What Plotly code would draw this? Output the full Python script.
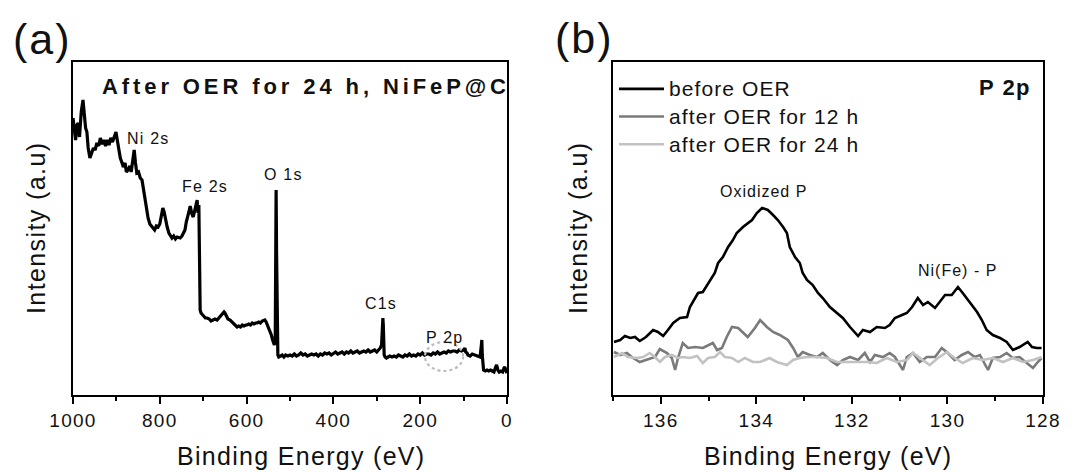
import plotly.graph_objects as go
from plotly.subplots import make_subplots

# ---------------- data: (a) survey spectrum ----------------
survey_ev = [1000, 997, 994, 991, 988, 985, 981, 977, 974, 971, 968, 965, 961, 957, 953, 949, 945, 941, 937, 933,
             929, 925, 921, 917, 913, 909, 905, 901, 898, 895, 891, 887, 884, 880, 877, 873, 869, 866, 862, 859,
             856, 853, 849, 845, 841, 838, 834, 830, 827, 823, 819, 816, 812, 808, 804, 800, 797, 793, 790, 786,
             783, 779, 775, 772, 768, 764, 760, 756, 753, 749, 745, 742, 739, 736, 733, 730, 728, 726, 723, 720,
             717, 714, 712, 710, 709, 708, 707, 705, 700, 695, 691, 686, 682, 678, 673, 668, 664, 660, 656, 652,
             650, 647, 643, 638, 634, 630, 626, 622, 618, 614, 610, 606, 602, 599, 595, 591, 587, 583, 579, 576,
             572, 568, 564, 561, 558, 555, 552, 549, 546, 543, 540, 538, 536, 534, 533, 532, 531, 530, 529, 528,
             526, 522, 518, 514, 510, 505, 500, 495, 490, 485, 480, 475, 470, 465, 460, 455, 450, 445, 440, 435,
             430, 425, 420, 415, 410, 405, 400, 395, 390, 385, 380, 375, 370, 365, 360, 355, 350, 345, 340, 335,
             330, 325, 320, 315, 310, 305, 300, 296, 292, 289, 287, 286, 285, 284, 283, 281, 278, 274, 270, 265,
             260, 255, 250, 245, 240, 235, 230, 225, 220, 215, 210, 205, 200, 195, 190, 185, 180, 175, 170, 165,
             160, 155, 150, 145, 140, 135, 130, 125, 120, 115, 110, 105, 100, 97, 95, 92, 90, 85, 80, 75,
             70, 66, 62, 59, 58, 57, 56, 54, 50, 46, 42, 38, 34, 30, 27, 24, 21, 18, 14, 10,
             7, 5, 3, 1, 0]
survey_int = [277, 265, 255, 270, 272, 258, 283, 295, 277, 267, 263, 247, 237, 242, 247, 245, 252, 249, 257, 251,
              255, 249, 255, 250, 257, 253, 259, 263, 255, 245, 237, 232, 228, 232, 223, 225, 229, 223, 237, 245,
              232, 222, 223, 217, 215, 207, 195, 185, 177, 171, 169, 167, 165, 169, 168, 171, 177, 187, 183, 173,
              168, 162, 159, 157, 159, 156, 158, 157, 157, 159, 162, 165, 173, 180, 183, 189, 183, 181, 178, 185,
              190, 195, 182, 190, 155, 105, 85, 82, 79, 77, 77, 76, 74, 75, 76, 75, 77, 79, 81, 83,
              82, 79, 76, 75, 73, 71, 70, 68, 69, 68, 70, 69, 70, 70, 71, 70, 72, 71, 72, 72,
              73, 72, 74, 75, 75, 73, 70, 67, 65, 60, 55, 53, 50, 55, 135, 205, 145, 65, 45, 40,
              38, 39, 40, 38, 40, 39, 40, 39, 41, 39, 40, 42, 40, 41, 39, 40, 41, 40, 41, 39,
              41, 40, 42, 41, 42, 40, 42, 43, 41, 42, 43, 41, 43, 42, 44, 42, 43, 44, 42, 43,
              44, 43, 45, 43, 44, 45, 43, 45, 47, 50, 65, 77, 70, 50, 40, 38, 37, 38, 39, 38,
              39, 38, 40, 39, 38, 40, 39, 41, 39, 40, 39, 41, 40, 42, 40, 41, 41, 40, 42, 41,
              43, 41, 42, 43, 42, 44, 43, 44, 44, 43, 45, 44, 45, 47, 43, 42, 40, 39, 41, 40,
              39, 38, 38, 50, 55, 40, 30, 25, 24, 25, 24, 25, 24, 23, 27, 30, 25, 23, 24, 23,
              27, 28, 25, 23, 22]

survey_peaks = ["Ni 2s", "Fe 2s", "O 1s", "C1s", "P 2p"]
survey_peak_ev = [827, 696, 514, 290, 143]
survey_peak_int = [257, 209, 221, 92, 58]

# ---------------- data: (b) P 2p high resolution ----------------
before_ev = [136.98, 136.85, 136.75, 136.64, 136.54, 136.44, 136.31, 136.16, 136.06, 135.95, 135.85, 135.74,
             135.60, 135.45, 135.39, 135.33, 135.22, 135.12, 135.01, 134.87, 134.80, 134.70, 134.59, 134.49,
             134.41, 134.34, 134.28, 134.09, 133.99, 133.88, 133.76, 133.65, 133.55, 133.44, 133.36, 133.30,
             133.19, 133.09, 133.03, 132.94, 132.82, 132.71, 132.61, 132.46, 132.31, 132.19, 132.04, 131.94,
             131.87, 131.77, 131.62, 131.48, 131.31, 131.21, 131.10, 130.95, 130.85, 130.74, 130.62, 130.51,
             130.41, 130.26, 130.16, 130.05, 129.91, 129.78, 129.68, 129.53, 129.38, 129.28, 129.18, 129.05,
             128.90, 128.76, 128.63, 128.49, 128.32, 128.23, 128.13, 128.03]
before_int = [53, 55, 59, 57, 58, 54, 58, 65, 63, 59, 65, 72,
              77, 78, 88, 93, 102, 103, 112, 122, 132, 138, 148, 155,
              162, 165, 168, 175, 182, 187, 185, 180, 175, 168, 162, 148,
              138, 132, 122, 115, 110, 102, 97, 88, 82, 77, 68, 63,
              59, 65, 63, 68, 67, 70, 77, 80, 82, 88, 97, 90,
              93, 87, 93, 100, 100, 108, 102, 93, 83, 75, 65, 60,
              57, 53, 45, 48, 53, 48, 47, 47]

after12_ev = [136.98, 136.85, 136.71, 136.58, 136.44, 136.29, 136.12, 136.02, 135.87, 135.77, 135.70, 135.64,
              135.54, 135.43, 135.28, 135.12, 135.01, 134.91, 134.82, 134.72, 134.62, 134.51, 134.38, 134.28,
              134.18, 134.03, 133.92, 133.78, 133.65, 133.51, 133.34, 133.23, 133.13, 133.03, 132.88, 132.73,
              132.61, 132.46, 132.31, 132.19, 132.04, 131.87, 131.73, 131.62, 131.52, 131.35, 131.21, 131.10,
              130.93, 130.85, 130.72, 130.58, 130.43, 130.26, 130.12, 129.99, 129.85, 129.70, 129.57, 129.43,
              129.32, 129.15, 129.05, 128.90, 128.76, 128.63, 128.49, 128.34, 128.21, 128.11, 128.03]
after12_int = [43, 40, 42, 37, 33, 35, 38, 46, 42, 37, 25, 37,
               52, 47, 48, 47, 50, 52, 45, 47, 58, 68, 67, 62,
               58, 67, 75, 68, 63, 60, 55, 47, 38, 43, 40, 38,
               42, 35, 30, 35, 38, 35, 42, 33, 40, 38, 42, 38,
               25, 38, 42, 33, 38, 38, 47, 42, 35, 40, 43, 38,
               40, 25, 37, 38, 42, 37, 38, 32, 27, 33, 37]

after24_ev = [136.98, 136.81, 136.69, 136.50, 136.37, 136.23, 136.12, 136.02, 135.91, 135.77, 135.64, 135.54,
              135.39, 135.24, 135.12, 135.01, 134.87, 134.76, 134.66, 134.51, 134.38, 134.24, 134.07, 133.92,
              133.72, 133.57, 133.36, 133.23, 133.09, 132.94, 132.73, 132.52, 132.31, 132.10, 131.90, 131.69,
              131.48, 131.27, 131.06, 130.85, 130.72, 130.58, 130.37, 130.20, 130.01, 129.85, 129.68, 129.47,
              129.26, 129.05, 128.84, 128.63, 128.42, 128.21, 128.03]
after24_int = [38, 42, 38, 37, 38, 42, 38, 33, 38, 40, 37, 38,
               37, 39, 32, 37, 38, 43, 38, 37, 33, 37, 33, 33,
               37, 33, 30, 35, 37, 38, 38, 37, 33, 33, 33, 33,
               32, 37, 33, 35, 42, 37, 30, 37, 43, 37, 32, 37,
               35, 37, 33, 37, 33, 35, 38]

series_names = ["before OER", "after OER for 12 h", "after OER for 24 h"]
series_colors = ["#000000", "#7a7a7a", "#c2c2c2"]
p2p_peaks = ["Oxidized P", "Ni(Fe) - P"]
p2p_peak_ev = [133.86, 129.78]
p2p_peak_int = [204, 125]

survey_ticks = [1000, 800, 600, 400, 200, 0]
survey_minor = [900, 700, 500, 300, 100]
p2p_ticks = [136, 134, 132, 130, 128]
p2p_minor = [137, 135, 133, 131, 129]

FONT = "Liberation Sans, Arial, sans-serif"
TXT = "#111111"


def ls(text, px, size=None):
    st = f"letter-spacing:{px}px"
    if size:
        st += f";font-size:{size}px"
    return f'<span style="{st}">{text}</span>'


W, H = 1088, 472
ML, MR, MT, MB = 73, 45, 62, 77
PW = W - ML - MR
PH = H - MT - MB


def px_x(px):
    return (px - ML) / PW


def px_y(py):
    return (H - MB - py) / PH


fig = make_subplots(rows=1, cols=2, horizontal_spacing=(613 - 507) / PW)
fig.update_xaxes(domain=[0, px_x(507)], row=1, col=1)
fig.update_xaxes(domain=[px_x(613), 1], row=1, col=2)

fig.add_trace(go.Scatter(x=survey_ev, y=survey_int, mode="lines", showlegend=False,
                         line=dict(color="#000000", width=3.2)), row=1, col=1)

for name, col, xs, ys in zip(series_names, series_colors,
                             [before_ev, after12_ev, after24_ev],
                             [before_int, after12_int, after24_int]):
    fig.add_trace(go.Scatter(x=xs, y=ys, mode="lines", name=ls(name, 1.1, 21),
                             line=dict(color=col, width=2.6)), row=1, col=2)

axis_common = dict(showline=True, linecolor="black", linewidth=2, mirror=True,
                   showgrid=False, zeroline=False)
fig.update_xaxes(**axis_common, ticks="outside", ticklen=7, tickwidth=2, tickcolor="black",
                 tickfont=dict(family=FONT, size=19, color=TXT))
fig.update_xaxes(range=[1000, 0], tickmode="array", tickvals=survey_ticks,
                 ticktext=[ls(str(t), 1.3) for t in survey_ticks],
                 minor=dict(tickvals=survey_minor, ticks="outside", ticklen=4, tickwidth=2, tickcolor="black"),
                 row=1, col=1)
fig.update_xaxes(range=[137, 128], tickmode="array", tickvals=p2p_ticks,
                 ticktext=[ls(str(t), 1.3) for t in p2p_ticks],
                 minor=dict(tickvals=p2p_minor, ticks="outside", ticklen=4, tickwidth=2, tickcolor="black"),
                 row=1, col=2)
fig.update_yaxes(**axis_common, showticklabels=False, ticks="", range=[0, 333])

ann = []
paper = dict(xref="paper", yref="paper", showarrow=False, xanchor="center", yanchor="middle")
# panel letters
ann.append(dict(text=ls("(a)", 2), x=px_x(42), y=px_y(39), **paper,
                font=dict(family=FONT, size=43, color=TXT)))
ann.append(dict(text=ls("(b)", 2), x=px_x(584), y=px_y(38), **paper,
                font=dict(family=FONT, size=43, color=TXT)))
# axis titles
for cx in (301, 828):
    ann.append(dict(text=ls("Binding Energy (eV)", 1.3), x=px_x(cx), y=px_y(456), **paper,
                    font=dict(family=FONT, size=25, color=TXT)))
for cx in (36, 578):
    ann.append(dict(text=ls("Intensity (a.u)", 1.4), x=px_x(cx), y=px_y(228), textangle=-90, **paper,
                    font=dict(family=FONT, size=25, color=TXT)))
# panel headers
hdr = dict(paper)
hdr["xanchor"] = "right"
ann.append(dict(text="<b>" + ls("After OER for 24 h, NiFeP@C", 3.9) + "</b>", x=px_x(512), y=px_y(86), **hdr,
                font=dict(family=FONT, size=22, color=TXT)))
ann.append(dict(text="<b>" + ls("P 2p", 1.5) + "</b>", x=px_x(1033), y=px_y(87), **hdr,
                font=dict(family=FONT, size=22, color=TXT)))
# peak labels
for t, xv, yv in zip(survey_peaks, survey_peak_ev, survey_peak_int):
    ann.append(dict(text=ls(t, 1.2), x=xv, y=yv, xref="x", yref="y", showarrow=False,
                    xanchor="center", yanchor="middle", font=dict(family=FONT, size=16, color=TXT)))
for t, xv, yv in zip(p2p_peaks, p2p_peak_ev, p2p_peak_int):
    ann.append(dict(text=ls(t, 1.0), x=xv, y=yv, xref="x2", yref="y2", showarrow=False,
                    xanchor="center", yanchor="middle", font=dict(family=FONT, size=16, color=TXT)))

fig.update_layout(
    width=W, height=H,
    margin=dict(l=ML, r=MR, t=MT, b=MB),
    paper_bgcolor="white", plot_bgcolor="white",
    font=dict(family=FONT, color=TXT),
    annotations=ann,
    shapes=[dict(type="circle", xref="x", yref="y", x0=189, x1=101, y0=24, y1=53,
                 line=dict(color="#bdbdbd", width=2.2, dash="dot"))],
    legend=dict(x=px_x(614), y=px_y(70), xanchor="left", yanchor="top",
                bgcolor="rgba(0,0,0,0)", borderwidth=0, itemwidth=45,
                font=dict(family=FONT, size=19, color=TXT), tracegroupgap=0),
)

fig.write_html("out.html")
